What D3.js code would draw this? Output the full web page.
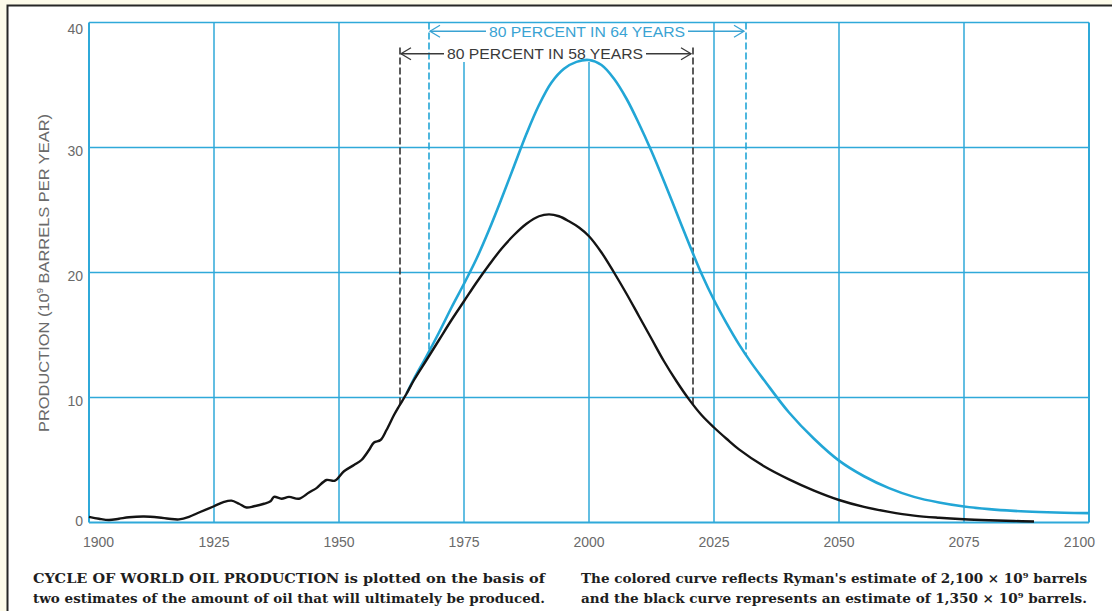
<!DOCTYPE html>
<html><head><meta charset="utf-8">
<script src="https://cdn.jsdelivr.net/npm/d3@7"></script>
<style>
html,body{margin:0;padding:0;background:#fdfbea;}
svg{display:block;}
</style></head>
<body>
<svg id="chart" width="1112" height="611"></svg>
<script>
// ---------- data ----------
const xTicks = [1900, 1925, 1950, 1975, 2000, 2025, 2050, 2075, 2100];
const yTicks = [0, 10, 20, 30, 40];
const blackYears = [1900,1902,1904,1906,1908,1911,1914,1916,1918,1920,1922,1925,1927,1928.5,1930,1931.5,1933,1935,1936.3,1937,1938.5,1940,1942,1944,1945.5,1947.5,1949.2,1951,1953,1954.5,1956,1957,1958.3,1959.5,1961,1962,1963.5,1965,1967.5,1970,1972.5,1975,1977.5,1980,1982.5,1985,1987.5,1990,1992,1994,1996,1998,2000,2002.5,2005,2007.5,2010,2012.5,2015,2017.5,2020,2022.5,2025,2027.5,2030,2035,2040,2045,2050,2055,2060,2065,2070,2075,2080,2085,2089];
const blackValues = [0.45,0.3,0.2,0.3,0.42,0.48,0.4,0.3,0.25,0.45,0.8,1.3,1.65,1.75,1.5,1.2,1.3,1.5,1.7,2.05,1.9,2.05,1.9,2.4,2.75,3.4,3.35,4.1,4.6,5.0,5.8,6.4,6.6,7.4,8.6,9.3,10.3,11.4,13.0,14.6,16.2,17.7,19.2,20.6,21.9,23.0,23.9,24.5,24.65,24.5,24.1,23.6,22.9,21.6,20.0,18.3,16.5,14.7,12.9,11.3,9.85,8.6,7.6,6.7,5.85,4.5,3.45,2.55,1.8,1.25,0.85,0.55,0.38,0.26,0.18,0.12,0.08];
const blueYears = [1963.5,1965,1967.5,1970,1972.5,1975,1977.5,1980,1982.5,1985,1987.5,1990,1992.5,1995,1997.5,2000,2002.5,2005,2007.5,2010,2012.5,2015,2017.5,2020,2022.5,2025,2027.5,2030,2032.5,2035,2040,2045,2050,2055,2060,2065,2070,2075,2080,2085,2090,2095,2100];
const blueValues = [10.3,11.5,13.3,15.2,17.2,19.1,21.1,23.4,25.9,28.5,31.1,33.4,35.2,36.3,36.85,37.0,36.6,35.5,33.9,31.9,29.7,27.3,24.8,22.3,19.9,17.8,15.95,14.25,12.75,11.4,8.8,6.7,4.95,3.7,2.75,2.05,1.6,1.28,1.07,0.93,0.84,0.78,0.75];
const annoLabels = ["80 PERCENT IN 64 YEARS", "80 PERCENT IN 58 YEARS"];
const annoStart = [1968, 1962.2];
const annoEnd = [2031.4, 2020.8];
const annoLevel = [39.3, 37.5];
const annoTop = [40, 38];
const annoSeries = ["blue", "black"];
const yTitle = ["PRODUCTION (10", "9", " BARRELS PER YEAR)"];
const captionLeft = [
  [["CYCLE OF WORLD OIL PRODUCTION", 900], [" is plotted on the basis of", 700]],
  [["two estimates of the amount of oil that will ultimately be produced.", 700]]
];
const captionRight = [
  [["The colored curve reflects Ryman's estimate of 2,100 \u00D7 10", 700], ["9", 700, true], [" barrels", 700]],
  [["and the black curve represents an estimate of 1,350 \u00D7 10", 700], ["9", 700, true], [" barrels.", 700]]
];

// ---------- layout ----------
const BLUE = "#22a6d6";
const GRID = "#2fa9d9";
const M = {left: 89, top: 22.5, width: 1000, height: 500};
const svg = d3.select("#chart");

// paper frame
svg.append("rect").attr("x", 7.5).attr("y", 5.5).attr("width", 1120).attr("height", 620)
  .attr("fill", "#ffffff").attr("stroke", "#262626").attr("stroke-width", 2);

const x = d3.scaleLinear().domain([1900, 2100]).range([M.left, M.left + M.width]);
const y = d3.scaleLinear().domain([0, 40]).range([M.top + M.height, M.top]);

const g = svg.append("g");

// series helpers
const blackData = blackYears.map((d, i) => [d, blackValues[i]]);
const blueData = blueYears.map((d, i) => [d, blueValues[i]]);
function interp(data, yr) {
  for (let i = 0; i < data.length - 1; i++) {
    if (yr >= data[i][0] && yr <= data[i+1][0]) {
      const t = (yr - data[i][0]) / (data[i+1][0] - data[i][0]);
      return data[i][1] + t * (data[i+1][1] - data[i][1]);
    }
  }
  return data[data.length-1][1];
}

// gridlines
const blackSpan = [annoStart[1], annoEnd[1]];
xTicks.forEach(t => {
  const inside = t > blackSpan[0] && t < blackSpan[1];
  const top = inside ? 36.85 : 40;
  g.append("line").attr("x1", x(t)).attr("x2", x(t)).attr("y1", y(top)).attr("y2", y(0))
    .attr("stroke", GRID).attr("stroke-width", (t === 1900 || t === 2100) ? 2 : 1.5);
});
yTicks.forEach(t => {
  g.append("line").attr("x1", x(1900)).attr("x2", x(2100)).attr("y1", y(t)).attr("y2", y(t))
    .attr("stroke", GRID).attr("stroke-width", (t === 0) ? 2 : 1.5);
});

// dashed marker lines
annoSeries.forEach((s, i) => {
  const data = s === "blue" ? blueData : blackData;
  [annoStart[i], annoEnd[i]].forEach(yr => {
    g.append("line").attr("x1", x(yr)).attr("x2", x(yr))
      .attr("y1", y(annoTop[i])).attr("y2", y(interp(data, yr)))
      .attr("stroke", s === "blue" ? BLUE : "#333")
      .attr("stroke-width", 1.6).attr("stroke-dasharray", "7,3");
  });
});

// curves
const line = d3.line().x(d => x(d[0])).y(d => y(d[1])).curve(d3.curveCatmullRom.alpha(0.5));
g.append("path").datum(blueData).attr("d", line).attr("fill", "none")
  .attr("stroke", BLUE).attr("stroke-width", 2.6);
g.append("path").datum(blackData).attr("d", line).attr("fill", "none")
  .attr("stroke", "#141414").attr("stroke-width", 2.4);

// annotations
annoLabels.forEach((lab, i) => {
  const col = annoSeries[i] === "blue" ? "#3aa3d3" : "#3a3a3a";
  const x0 = x(annoStart[i]) + 1, x1 = x(annoEnd[i]) - 2;
  const yy = y(annoLevel[i]);
  const cx = (x0 + x1) / 2 + (i === 0 ? 0 : -1);
  g.append("text").attr("x", cx).attr("y", yy).attr("dy", "0.36em")
    .attr("text-anchor", "middle").attr("fill", col)
    .attr("font-family", "Liberation Sans, Arial, sans-serif").attr("font-size", 15)
    .attr("textLength", 196).attr("lengthAdjust", "spacingAndGlyphs")
    .text(lab);
  const half = 98 + 3;
  g.append("line").attr("x1", x0).attr("x2", cx - half).attr("y1", yy).attr("y2", yy)
    .attr("stroke", col).attr("stroke-width", 1.3);
  g.append("line").attr("x1", cx + half).attr("x2", x1).attr("y1", yy).attr("y2", yy)
    .attr("stroke", col).attr("stroke-width", 1.3);
  g.append("path").attr("d", `M${x0 + 10},${yy - 6}L${x0},${yy}L${x0 + 10},${yy + 6}`)
    .attr("fill", "none").attr("stroke", col).attr("stroke-width", 1.3);
  g.append("path").attr("d", `M${x1 - 10},${yy - 6}L${x1},${yy}L${x1 - 10},${yy + 6}`)
    .attr("fill", "none").attr("stroke", col).attr("stroke-width", 1.3);
});

// axis labels
const tickFont = "Liberation Sans, Arial, sans-serif";
yTicks.forEach(t => {
  const off = t === 40 ? 6 : (t === 0 ? -1.5 : 3);
  svg.append("text").attr("x", 83).attr("y", y(t) + off).attr("dy", "0.36em")
    .attr("text-anchor", "end").attr("fill", "#6a6a6a")
    .attr("font-family", tickFont).attr("font-size", 14).text(t);
});
xTicks.forEach((t, i) => {
  let anchor = "middle", xx = x(t);
  if (i === 0) { anchor = "start"; xx = x(t) - 6; }
  if (i === xTicks.length - 1) { anchor = "end"; xx = x(t) + 6; }
  svg.append("text").attr("x", xx).attr("y", 542).attr("dy", "0.36em")
    .attr("text-anchor", anchor).attr("fill", "#6a6a6a")
    .attr("font-family", tickFont).attr("font-size", 14).text(t);
});
const yt = svg.append("text").attr("transform", "translate(49,273) rotate(-90)")
  .attr("text-anchor", "middle").attr("fill", "#6a6a6a")
  .attr("font-family", tickFont).attr("font-size", 15.5)
  .attr("textLength", 318).attr("lengthAdjust", "spacingAndGlyphs");
yt.append("tspan").text(yTitle[0]);
yt.append("tspan").attr("dy", -6).attr("font-size", 9).text(yTitle[1]);
yt.append("tspan").attr("dy", 6).text(yTitle[2]);

// captions
function caption(lines, x0, width) {
  lines.forEach((parts, li) => {
    const t = svg.append("text").attr("x", x0).attr("y", 583 + li * 20)
      .attr("fill", "#1e1e1e").attr("font-family", "DejaVu Serif, Liberation Serif, serif")
      .attr("font-size", 13).attr("textLength", width).attr("lengthAdjust", "spacingAndGlyphs");
    parts.forEach((p, pi) => {
      const ts = t.append("tspan").attr("font-weight", p[1] >= 800 ? 900 : 700).text(p[0]);
      if (p[2]) { ts.attr("dy", -5).attr("font-size", 8); }
      else if (pi > 0 && parts[pi - 1][2]) ts.attr("dy", 5);
    });
  });
}
caption(captionLeft, 33, 512);
caption(captionRight, 581, 506);
</script>
</body></html>
